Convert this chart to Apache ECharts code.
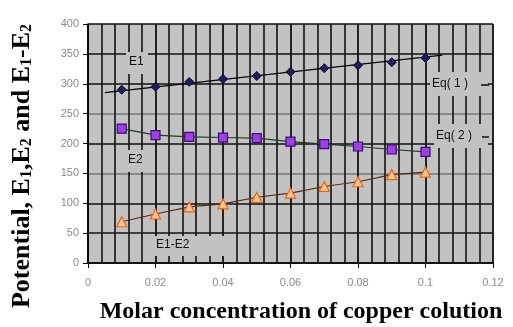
<!DOCTYPE html>
<html><head><meta charset="utf-8">
<script src="https://cdn.jsdelivr.net/npm/echarts@6/dist/echarts.min.js"></script>
<style>html,body{margin:0;padding:0;background:#fff}#c{width:513px;height:327px}</style>
</head><body><div id="c"></div>
<script>
var conc = [0.01, 0.02, 0.03, 0.04, 0.05, 0.06, 0.07, 0.08, 0.09, 0.10];
var e1 = [290, 295, 303, 308, 313, 320, 326, 331, 336, 343];
var e2 = [225, 214, 211, 210, 209, 203, 199, 195, 190, 186];
var e1e2 = [69, 82, 94, 99, 110, 117, 128, 136, 148, 152];
var trendX = [0.005, 0.105];
var e1Trend = [285, 348];
var xTicks = [0, 0.02, 0.04, 0.06, 0.08, 0.1, 0.12];
var yTicks = [0, 50, 100, 150, 200, 250, 300, 350, 400];

function pairs(xs, ys){ return xs.map(function(x,i){ return [x, ys[i]]; }); }

var chart = echarts.init(document.getElementById('c'));
var labelStyle = {fontFamily:'Liberation Sans', fontSize:12, fill:'#111'};
var hColors = ['#111','#111','#111','#777','#111','#777','#111','#111','#111'];
chart.setOption({
  animation:false,
  grid:{left:88, right:20, top:24, bottom:64, show:true, backgroundColor:'#c2c2c2', borderWidth:0},
  xAxis:{
    type:'value', min:xTicks[0], max:xTicks[xTicks.length-1], interval:0.02,
    axisLine:{show:true, onZero:false, lineStyle:{color:'#000', width:1.5}},
    axisTick:{show:true, length:5, lineStyle:{color:'#000'}},
    minorTick:{show:false, splitNumber:5},
    splitLine:{show:true, lineStyle:{color:'#111', width:1.8}},
    minorSplitLine:{show:true, lineStyle:{color:'#111', width:1.6}},
    axisLabel:{color:'#8a8a8a', fontFamily:'Liberation Sans', fontSize:11, margin:14,
      formatter:function(v){ return String(Math.round(v*100)/100); }}
  },
  yAxis:{
    type:'value', min:yTicks[0], max:yTicks[yTicks.length-1], interval:50,
    axisLine:{show:true, lineStyle:{color:'#000', width:1.5}},
    axisTick:{show:true, length:5, lineStyle:{color:'#000'}},
    splitLine:{show:true, lineStyle:{color:hColors, width:1.6}},
    axisLabel:{color:'#8a8a8a', fontFamily:'Liberation Sans', fontSize:11, margin:9}
  },
  series:[
    {type:'line', data:pairs(trendX, e1Trend), symbol:'none', lineStyle:{color:'#000', width:1.2}, z:2},
    {type:'line', data:pairs(conc, e1), symbol:'diamond', symbolSize:9,
      itemStyle:{color:'#1c1c5e', borderColor:'#0a0a30', borderWidth:1}, lineStyle:{width:0}, z:3},
    {type:'line', data:pairs(conc, e2), symbol:'rect', symbolSize:9,
      itemStyle:{color:'#a040e0', borderColor:'#3a0a80', borderWidth:1.2}, lineStyle:{color:'#1f3f1f', width:1.2}, z:3},
    {type:'line', data:pairs(conc, e1e2), symbol:'triangle', symbolSize:10,
      itemStyle:{color:'#ffc890', borderColor:'#f06010', borderWidth:1.2}, lineStyle:{color:'#5a2a10', width:1.2}, z:3}
  ],
  graphic:[
    {type:'rect', shape:{x:126, y:52, width:22, height:22}, style:{fill:'#c2c2c2'}, z:10},
    {type:'text', x:129, y:56, style:Object.assign({text:'E1'}, labelStyle), z:11},
    {type:'rect', shape:{x:124, y:150, width:26, height:22}, style:{fill:'#c2c2c2'}, z:10},
    {type:'text', x:128, y:154, style:Object.assign({text:'E2'}, labelStyle), z:11},
    {type:'rect', shape:{x:143, y:236, width:82, height:20}, style:{fill:'#c2c2c2'}, z:10},
    {type:'text', x:156, y:239, style:Object.assign({text:'E1-E2'}, labelStyle), z:11},
    {type:'rect', shape:{x:430, y:72, width:58, height:24}, style:{fill:'#c2c2c2'}, z:10},
    {type:'text', x:432, y:78, style:Object.assign({text:'Eq( 1 )'}, labelStyle), z:11},
    {type:'line', shape:{x1:481, y1:85, x2:489, y2:85}, style:{stroke:'#111', lineWidth:1.5}, z:11},
    {type:'rect', shape:{x:434, y:124, width:54, height:24}, style:{fill:'#c2c2c2'}, z:10},
    {type:'text', x:436, y:130, style:Object.assign({text:'Eq( 2 )'}, labelStyle), z:11},
    {type:'line', shape:{x1:482, y1:137, x2:489, y2:137}, style:{stroke:'#111', lineWidth:1.5}, z:11},
    {type:'text', x:301, y:312, style:{text:'Molar concentration of copper colution', fontFamily:'Liberation Serif', fontWeight:'bold', fontSize:24, fill:'#000', align:'center', verticalAlign:'middle'}, z:12},
    {type:'text', x:22, y:166, rotation:Math.PI/2, style:{
      text:'{b|Potential, E}{s|1}{b|,E}{s|2}{b| and E}{s|1}{b|-E}{s|2}', align:'center', verticalAlign:'middle',
      rich:{
        b:{fontFamily:'Liberation Serif', fontWeight:'bold', fontSize:26, fill:'#000'},
        s:{fontFamily:'Liberation Serif', fontWeight:'bold', fontSize:16, fill:'#000', verticalAlign:'bottom', padding:[10,0,0,0]}
      }}, z:12}
  ]
});
</script></body></html>
